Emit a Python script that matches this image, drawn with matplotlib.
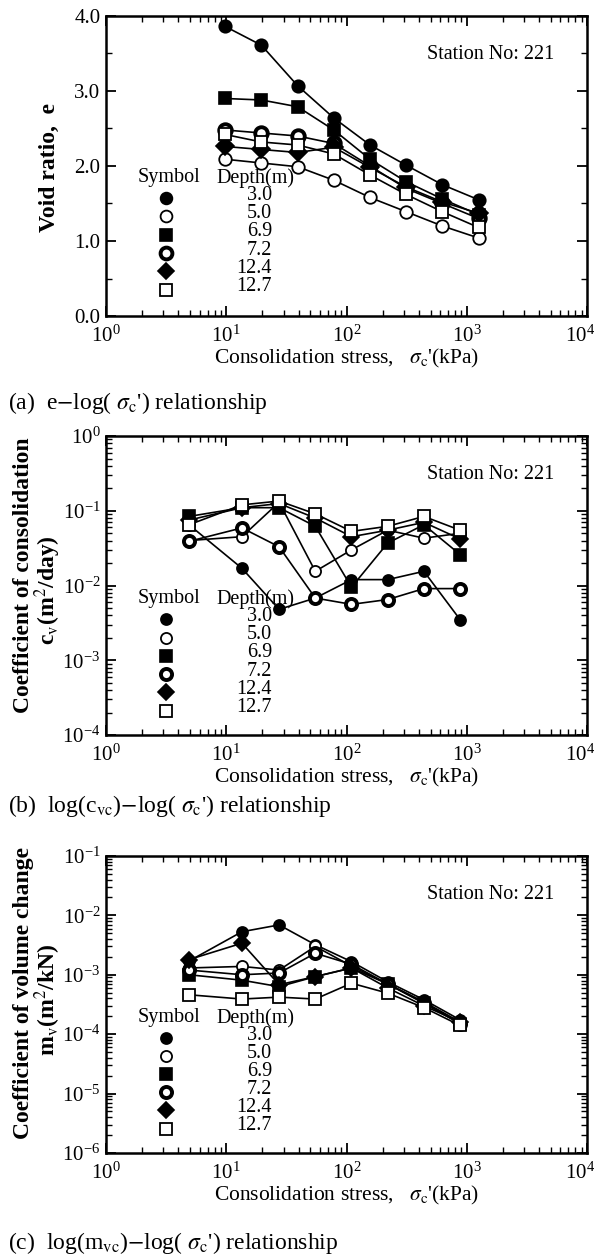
import matplotlib
matplotlib.use("Agg")
import matplotlib.pyplot as plt
from matplotlib.ticker import LogLocator, MultipleLocator, NullFormatter, FormatStrFormatter
from matplotlib.transforms import ScaledTranslation

plt.rcParams['font.family'] = ['Liberation Serif', 'DejaVu Serif']
plt.rcParams['mathtext.fontset'] = 'stix'

# depths (legend)
depths = ['3.0', '5.0', '6.9', '7.2', '12.4', '12.7']

# (a) void ratio
sig_a = [9.8, 19.6, 39.2, 78.4, 156.8, 313.6, 627.2, 1254.4]
e_30 = [3.86, 3.61, 3.07, 2.64, 2.28, 2.01, 1.75, 1.55]
e_50 = [2.09, 2.04, 1.99, 1.81, 1.58, 1.39, 1.20, 1.04]
e_69 = [2.90, 2.88, 2.79, 2.48, 2.09, 1.79, 1.56, 1.35]
e_72 = [2.48, 2.44, 2.40, 2.30, 2.00, 1.70, 1.50, 1.30]
e_124 = [2.26, 2.22, 2.18, 2.25, 1.98, 1.72, 1.52, 1.37]
e_127 = [2.42, 2.32, 2.28, 2.16, 1.88, 1.62, 1.39, 1.18]

# (b) coefficient of consolidation
sig_b = [4.9, 13.5, 27.5, 55, 110, 220, 440, 880]
cv_30 = [0.065, 0.017, 0.0048, 0.0068, 0.012, 0.012, 0.0155, 0.0035]
cv_50 = [0.040, 0.045, 0.13, 0.0155, 0.030, 0.055, 0.043, 0.050]
cv_69 = [0.084, 0.11, 0.11, 0.062, 0.0095, 0.037, 0.065, 0.026]
cv_72 = [0.039, 0.059, 0.033, 0.0068, 0.0056, 0.0065, 0.0091, 0.0091]
cv_124 = [0.075, 0.11, 0.125, 0.08, 0.045, 0.055, 0.07, 0.042]
cv_127 = [0.065, 0.12, 0.135, 0.091, 0.053, 0.062, 0.084, 0.055]

# (c) coefficient of volume change
mv_30 = [0.0017, 0.0053, 0.0069, 0.0032, 0.00166, 0.00076, 0.00038, 0.000174]
mv_50 = [0.0013, 0.00138, 0.0012, 0.0030, 0.0014, 0.0007, 0.00035, 0.00016]
mv_69 = [0.0010, 0.00081, 0.00063, 0.00093, 0.0013, 0.0007, 0.00033, 0.00015]
mv_72 = [0.0012, 0.0010, 0.00107, 0.0023, 0.0015, 0.0007, 0.00034, 0.00015]
mv_124 = [0.0018, 0.0034, 0.00068, 0.00093, 0.0013, 0.0006, 0.0003, 0.00016]
mv_127 = [0.00046, 0.00039, 0.00042, 0.00039, 0.00072, 0.00049, 0.00028, 0.00014]

styles = [
    dict(marker='o', mfc='black', mew=1.2),
    dict(marker='o', mfc='white', mew=1.3),
    dict(marker='s', mfc='black', mew=1.2),
    dict(marker='o', mfc='white', mew=2.8),
    dict(marker='D', mfc='black', mew=1.2),
    dict(marker='s', mfc='white', mew=1.3),
]

fig = plt.figure(figsize=(5.99, 12.58), dpi=100)
ax_a = fig.add_axes([0.177, 0.7488, 0.803, 0.2385])
ax_b = fig.add_axes([0.177, 0.4157, 0.803, 0.2377])
ax_c = fig.add_axes([0.177, 0.0835, 0.803, 0.2361])

FS = 14.5
xlab = r"Consolidation stress,   $\sigma_{\rm c}$'(kPa)"


def draw(ax, x, series, ms):
    for y, st in zip(series, styles):
        ax.plot(x, y, color='black', lw=1.2, mec='black', ms=ms, **st)


def legend(ax, ys, ms):
    ax.text(0.13, ys + 0.068, 'Symbol', transform=ax.transAxes, ha='center', va='center', fontsize=FS)
    ax.text(0.31, ys + 0.068, 'Depth(m)', transform=ax.transAxes, ha='center', va='center', fontsize=FS)
    for i, (d, st) in enumerate(zip(depths, styles)):
        yy = ys - i * 0.061
        ax.plot([0.125], [yy], transform=ax.transAxes, color='black', mec='black', ms=ms,
                clip_on=False, **st)
        ax.text(0.345, yy + 0.01, d, transform=ax.transAxes, ha='right', va='center', fontsize=FS)


def frame(ax):
    ax.set_xscale('log')
    ax.set_xlim(1, 1e4)
    ax.xaxis.set_major_locator(LogLocator(base=10, numticks=10))
    ax.xaxis.set_minor_locator(LogLocator(base=10, subs=range(2, 10), numticks=20))
    ax.xaxis.set_minor_formatter(NullFormatter())
    ax.tick_params(which='both', direction='in', top=True, right=True, labelsize=15, pad=4)
    ax.tick_params(axis='x', which='major', pad=7)
    ax.tick_params(which='major', length=7, width=1.3)
    ax.tick_params(which='minor', length=4, width=1.0)
    for s in ax.spines.values():
        s.set_linewidth(1.8)
    ax.set_xlabel(xlab, fontsize=15.5, labelpad=0)
    ax.text(0.8, 0.87, 'Station No: 221', transform=ax.transAxes, ha='center', va='center', fontsize=14.5)


def logy(ax, lo, hi):
    ax.set_yscale('log')
    ax.set_ylim(lo, hi)
    ax.yaxis.set_major_locator(LogLocator(base=10, numticks=10))
    ax.yaxis.set_minor_locator(LogLocator(base=10, subs=range(2, 10), numticks=20))
    ax.yaxis.set_minor_formatter(NullFormatter())


# (a)
draw(ax_a, sig_a, [e_30, e_50, e_69, e_72, e_124, e_127], 9)
frame(ax_a)
ax_a.set_ylim(0, 4)
ax_a.yaxis.set_major_locator(MultipleLocator(1))
ax_a.yaxis.set_minor_locator(MultipleLocator(0.5))
ax_a.yaxis.set_major_formatter(FormatStrFormatter('%.1f'))
legend(ax_a, 0.393, 8.5)

# (b)
draw(ax_b, sig_b, [cv_30, cv_50, cv_69, cv_72, cv_124, cv_127], 8)
frame(ax_b)
logy(ax_b, 1e-4, 1)
legend(ax_b, 0.387, 8)

# (c)
draw(ax_c, sig_b, [mv_30, mv_50, mv_69, mv_72, mv_124, mv_127], 8)
frame(ax_c)
logy(ax_c, 1e-6, 1e-1)
legend(ax_c, 0.387, 8)

# y labels
YL = 17
fig.text(49 / 599, 1 - 167 / 1258, 'Void ratio,  e', rotation=90, ha='center', va='center',
         fontsize=YL, fontweight='bold')
fig.text(24 / 599, 1 - 575 / 1258, 'Coefficient of consolidation', rotation=90, ha='center',
         va='center', fontsize=YL, fontweight='bold')
fig.text(48 / 599, 1 - 590 / 1258, r'c$_{\rm v}$(m$^2$/day)', rotation=90, ha='center',
         va='center', fontsize=YL, fontweight='bold')
fig.text(24 / 599, 1 - 993 / 1258, 'Coefficient of volume change', rotation=90, ha='center',
         va='center', fontsize=YL, fontweight='bold')
fig.text(48 / 599, 1 - 1000 / 1258, r'm$_{\rm v}$(m$^2$/kN)', rotation=90, ha='center',
         va='center', fontsize=YL, fontweight='bold')

# captions
CF = 17
fig.text(8 / 599, 1 - 403 / 1258, r"(a)  e$-$log( $\sigma_{\rm c}$') relationship", fontsize=CF, va='center')
fig.text(8 / 599, 1 - 806 / 1258, r"(b)  log(c$_{\rm vc}$)$-$log( $\sigma_{\rm c}$') relationship",
         fontsize=CF, va='center')
fig.text(8 / 599, 1 - 1243 / 1258, r"(c)  log(m$_{\rm vc}$)$-$log( $\sigma_{\rm c}$') relationship",
         fontsize=CF, va='center')

# keep the 10^4 label inside the picture
fig.canvas.draw()
shift = ScaledTranslation(-5 / 72, 0, fig.dpi_scale_trans)
for ax in (ax_a, ax_b, ax_c):
    for t in ax.xaxis.get_major_ticks():
        if abs(t.get_loc() - 1e4) < 1:
            t.label1.set_transform(t.label1.get_transform() + shift)

fig.savefig('out.png', dpi=100)
